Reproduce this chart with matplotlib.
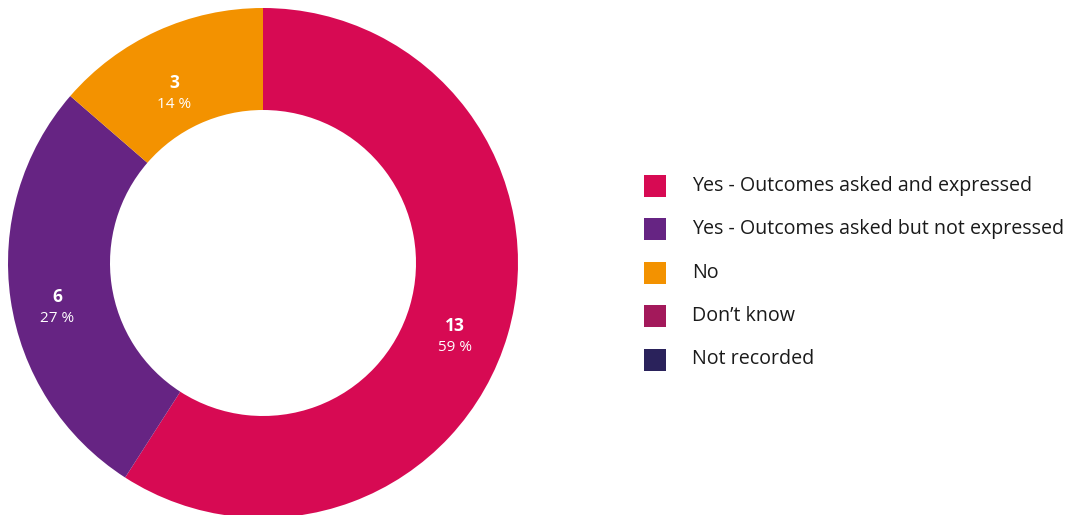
import numpy as np
import matplotlib.pyplot as plt

plt.rcParams["font.family"] = ["Open Sans", "DejaVu Sans"]

categories = [
    "Yes - Outcomes asked and expressed",
    "Yes - Outcomes asked but not expressed",
    "No",
    "Don\u2019t know",
    "Not recorded",
]
counts = [13, 6, 3, 0, 0]
percent_labels = ["59 %", "27 %", "14 %", "0 %", "0 %"]
colors = ["#D70A53", "#662483", "#F39200", "#A3195B", "#2A225B"]

W, H = 1072, 515
fig = plt.figure(figsize=(W / 100, H / 100), dpi=100)

# donut axes: centre (263, 263) px, radius 255 px
cx, cy, r = 263, 263, 255
ax = fig.add_axes([(cx - r) / W, (H - cy - r) / H, 2 * r / W, 2 * r / H])
ax.axis("off")

shown = [(c, col) for c, col in zip(counts, colors) if c > 0]
wedges, _ = ax.pie(
    [c for c, _ in shown],
    colors=[col for _, col in shown],
    startangle=90,
    counterclock=False,
    radius=1,
    wedgeprops=dict(width=0.4, linewidth=0),
)
ax.set_xlim(-1, 1)
ax.set_ylim(-1, 1)

for w, c, p in zip(wedges, counts, percent_labels):
    mid = np.deg2rad((w.theta1 + w.theta2) / 2)
    x, y = 0.8 * np.cos(mid), 0.8 * np.sin(mid)
    ax.text(x - 0.015, y - 0.02, str(c), ha="center", va="center",
            color="white", fontsize=12.5, fontweight="bold")
    ax.text(x - 0.015, y - 0.105, p, ha="center", va="center",
            color="white", fontsize=11)

# legend drawn manually
lax = fig.add_axes([0, 0, 1, 1])
lax.set_xlim(0, W)
lax.set_ylim(H, 0)
lax.axis("off")
for i, (lab, col) in enumerate(zip(categories, colors)):
    yy = 185.5 + i * 43.5
    lax.add_patch(plt.Rectangle((644, yy - 11), 22, 22, color=col, lw=0))
    lax.text(692, yy, lab, va="center", ha="left", fontsize=14.1,
             color="#1a1a1a")

fig.savefig("out.png", dpi=100)
